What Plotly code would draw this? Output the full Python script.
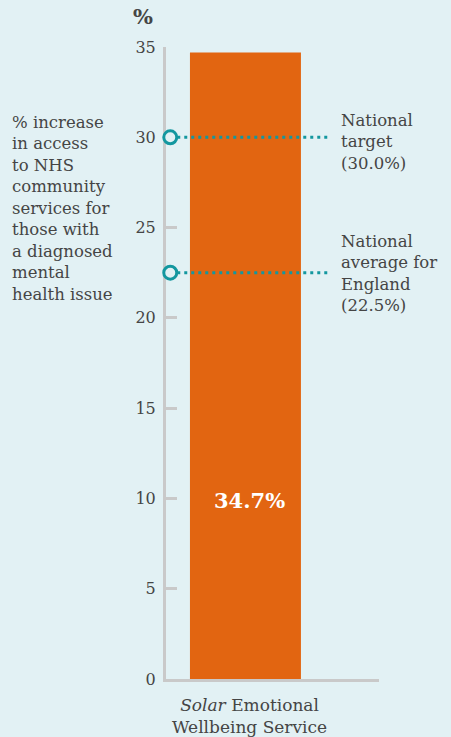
import plotly.graph_objects as go

# ---- data ----
categories = ["<i>Solar</i> Emotional<br>Wellbeing Service"]
values = [34.7]
ref_names = ["National<br>target<br>(30.0%)", "National<br>average for<br>England<br>(22.5%)"]
ref_values = [30.0, 22.5]
y_ticks = [0, 5, 10, 15, 20, 25, 30, 35]
y_title = "%"
side_text = ("% increase<br>in access<br>to NHS<br>community<br>services for<br>"
             "those with<br>a diagnosed<br>mental<br>health issue")

BG = "#E2F1F4"
ORANGE = "#E26511"
TEAL = "#13979F"
GREY_AX = "#C9C9C9"
TXT = "#454545"
FONT = "DejaVu Serif"

bar_x = 0.373
bar_w = 0.521
marker_x = 0.02
line_end = 0.77
label_shifts = [-5, -1]

fig = go.Figure()
fig.add_trace(go.Bar(x=[bar_x], y=values, width=bar_w, marker=dict(color=ORANGE, line=dict(width=0)),
                     hoverinfo="skip"))
for v in ref_values:
    fig.add_trace(go.Scatter(x=[marker_x, line_end], y=[v, v], mode="lines",
                             line=dict(color=TEAL, width=3, dash="3px,4px"), hoverinfo="skip"))
fig.add_trace(go.Scatter(x=[marker_x] * len(ref_values), y=ref_values, mode="markers",
                         marker=dict(symbol="circle", size=13, color=BG, line=dict(color=TEAL, width=3)),
                         cliponaxis=False, hoverinfo="skip"))

ann = []
for name, v, s in zip(ref_names, ref_values, label_shifts):
    ann.append(dict(x=0.81, xref="paper", y=v, yref="y", xanchor="left", yanchor="middle",
                    yshift=s, text=name, align="left", showarrow=False,
                    font=dict(family=FONT, size=16.5, color=TXT)))
ann.append(dict(x=-0.733, xref="paper", y=0.745, yref="paper", xanchor="left", yanchor="middle",
                text=side_text, align="left", showarrow=False,
                font=dict(family=FONT, size=16.5, color=TXT)))
ann.append(dict(x=-0.108, xref="paper", y=1.0475, yref="paper", xanchor="center", yanchor="middle",
                text="<b>" + y_title + "</b>", showarrow=False,
                font=dict(family=FONT, size=21, color=TXT)))
ann.append(dict(x=bar_x, xref="x", y=0.283, yref="paper", xanchor="center", yanchor="middle",
                xshift=4, text="<b>%.1f%%</b>" % values[0], showarrow=False,
                font=dict(family=FONT, size=21, color="white")))
ann.append(dict(x=0.394, xref="paper", y=-0.0585, yref="paper", xanchor="center", yanchor="middle",
                text=categories[0], align="center", showarrow=False,
                font=dict(family=FONT, size=17, color=TXT)))

fig.update_layout(
    width=451, height=737,
    margin=dict(l=166, r=72, t=47, b=58),
    paper_bgcolor=BG, plot_bgcolor=BG,
    showlegend=False,
    annotations=ann,
    xaxis=dict(range=[0, 1], showgrid=False, zeroline=False, showticklabels=False, ticks="",
               showline=True, linecolor=GREY_AX, linewidth=3, layer="below traces", fixedrange=True),
    yaxis=dict(range=[0, 35], tickvals=y_ticks, showgrid=False, zeroline=False,
               showline=True, linecolor=GREY_AX, linewidth=3, ticks="inside", ticklen=11,
               tickwidth=3, tickcolor=GREY_AX, ticklabelstandoff=4, layer="below traces",
               tickfont=dict(family=FONT, size=16, color=TXT), fixedrange=True),
)

fig.write_html("out.html")
